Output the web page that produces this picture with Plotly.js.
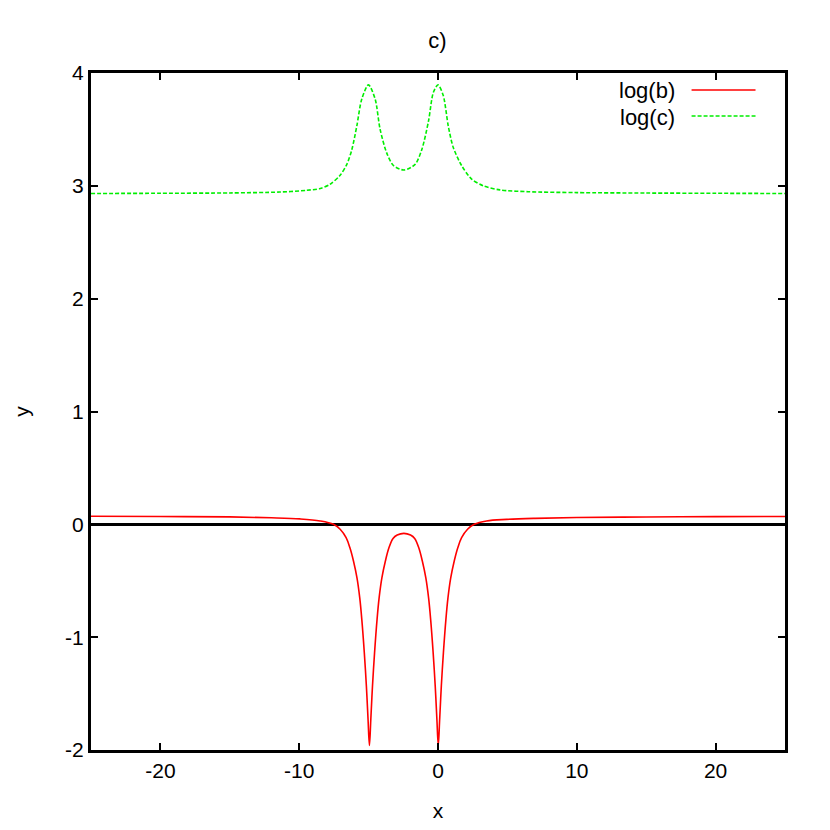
<!DOCTYPE html>
<html>
<head>
<meta charset="utf-8">
<script src="https://cdn.plot.ly/plotly-3.0.1.min.js"></script>
<style>html,body{margin:0;padding:0;background:#fff;}#plot{width:830px;height:830px;}</style>
</head>
<body>
<div id="plot"></div>
<script>
const bX = [-25, -20, -15, -12, -9.93, -8.49, -7.53, -7.05, -6.62, -6.34, -6.09, -5.84, -5.64, -5.49, -5.31, -5.16, -5.04, -4.94, -4.84, -4.72, -4.57, -4.39, -4.24, -4.04, -3.79, -3.54, -3.24, -2.94, -2.46, -1.98, -1.68, -1.38, -1.13, -0.88, -0.68, -0.53, -0.35, -0.2, -0.08, 0.02, 0.12, 0.24, 0.39, 0.57, 0.72, 0.92, 1.17, 1.42, 1.7, 2.13, 2.61, 3.5, 4.94, 7, 10, 15, 20, 25];
const bY = [0.071, 0.069, 0.066, 0.058, 0.048, 0.03, 0, -0.044, -0.118, -0.21, -0.325, -0.473, -0.65, -0.842, -1.137, -1.433, -1.728, -1.96, -1.728, -1.433, -1.137, -0.842, -0.65, -0.473, -0.325, -0.21, -0.125, -0.095, -0.08, -0.095, -0.125, -0.21, -0.325, -0.473, -0.65, -0.842, -1.137, -1.433, -1.728, -1.96, -1.728, -1.433, -1.137, -0.842, -0.65, -0.473, -0.325, -0.21, -0.118, -0.044, 0, 0.03, 0.044, 0.053, 0.06, 0.065, 0.068, 0.07];
const cX = [-25, -20, -15, -11.4, -9.5, -8.49, -7.77, -7.05, -6.57, -6.21, -5.85, -5.49, -5.01, -4.53, -4.17, -3.69, -3.21, -2.44, -1.65, -1.17, -0.69, -0.33, 0.0, 0.38, 0.74, 1.1, 1.7, 2.42, 3.26, 4.46, 6.5, 10, 15, 20, 25];
const cY = [2.932, 2.934, 2.937, 2.945, 2.96, 2.976, 3.014, 3.094, 3.19, 3.32, 3.53, 3.77, 3.895, 3.77, 3.50, 3.29, 3.18, 3.14, 3.19, 3.32, 3.57, 3.83, 3.895, 3.80, 3.53, 3.34, 3.18, 3.06, 3.0, 2.964, 2.948, 2.94, 2.936, 2.934, 2.932];
const seriesNames = ['log(b)', 'log(c)'];
const xTicks = [-20, -10, 0, 10, 20];
const xTickText = ['-20', '-10', '0', '10', '20'];
const yTicks = [-2, -1, 0, 1, 2, 3, 4];
const yTickText = ['-2', '-1', '0', '1', '2', '3', '4'];

const fam = 'Liberation Sans, Arial, sans-serif';
const font = {family: fam, size: 21, color: '#000'};
const traces = [
  {x: bX, y: bY, mode: 'lines', name: seriesNames[0], line: {color: '#ff0000', width: 1.6, shape: 'spline', smoothing: 1}},
  {x: cX, y: cY, mode: 'lines', name: seriesNames[1], line: {color: '#00ee00', width: 1.6, dash: '4px,2px', shape: 'spline', smoothing: 0.8}}
];
const L = 91, R = 785.5, T = 73, B = 750;
const px = v => (v - L) / (R - L);
const py = v => (B - v) / (B - T);
const legFont = {family: fam, size: 22, color: '#000'};
const layout = {
  width: 830, height: 830,
  margin: {l: L, r: 830 - R, t: T, b: 830 - B, pad: 0},
  paper_bgcolor: '#fff', plot_bgcolor: '#fff',
  showlegend: false,
  font: font,
  title: {text: 'c)', font: {family: fam, size: 22, color: '#000'}, x: 0.527, xanchor: 'center', y: 1 - 40/830, yanchor: 'middle'},
  xaxis: {range: [-25, 25], tickvals: xTicks, ticktext: xTickText, ticks: 'inside', ticklen: 7, tickwidth: 2, tickcolor: '#000',
    showline: true, linewidth: 3, linecolor: '#000', mirror: 'ticks', showgrid: false, zeroline: false,
    tickfont: font, title: {text: 'x', font: font, standoff: 23}},
  yaxis: {range: [-2, 4], tickvals: yTicks, ticktext: yTickText, ticks: 'inside', ticklen: 7, tickwidth: 2, tickcolor: '#000',
    showline: true, linewidth: 3, linecolor: '#000', mirror: 'ticks', showgrid: false,
    zeroline: true, zerolinecolor: '#000', zerolinewidth: 2.5,
    tickfont: font, title: {text: 'y', font: font, standoff: 30}},
  annotations: [
    {xref: 'paper', yref: 'paper', x: px(677), y: py(91), xanchor: 'right', yanchor: 'middle', text: seriesNames[0], showarrow: false, font: legFont},
    {xref: 'paper', yref: 'paper', x: px(677), y: py(117), xanchor: 'right', yanchor: 'middle', text: seriesNames[1], showarrow: false, font: legFont}
  ],
  shapes: [
    {type: 'line', xref: 'paper', yref: 'paper', x0: px(692), x1: px(756), y0: py(90), y1: py(90), line: {color: '#ff0000', width: 1.6}},
    {type: 'line', xref: 'paper', yref: 'paper', x0: px(692), x1: px(756), y0: py(116), y1: py(116), line: {color: '#00ee00', width: 1.6, dash: '4px,2px'}}
  ]
};
Plotly.newPlot('plot', traces, layout, {displayModeBar: false, staticPlot: true});
</script>
</body>
</html>
